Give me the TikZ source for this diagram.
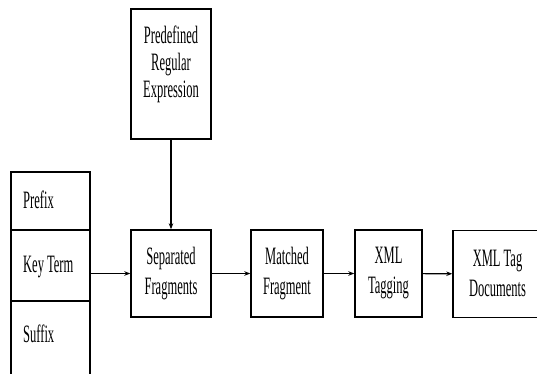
\documentclass[tikz,border=0pt]{standalone}
\usepackage{fontspec}
\setmainfont{Liberation Serif}[FakeStretch=0.5]
\usetikzlibrary{arrows.meta}
\begin{document}
\begin{tikzpicture}[x=1pt,y=-1pt,
  box/.style={draw,line width=1.4pt,inner sep=0pt,align=center,font=\fontsize{25}{30}\selectfont},
  lbl/.style={inner sep=0pt,font=\fontsize{25}{30}\selectfont},
  conn/.style={line width=1.2pt,-{Stealth[length=6pt,width=4.5pt]}}]
\clip (0,0) rectangle (537,374);
\fill[white] (0,0) rectangle (537,374);
% left stack
\node[box,minimum width=79pt,minimum height=58pt] (prefix) at (50.5,201) {};
\node[box,minimum width=79pt,minimum height=71pt] (key) at (50.5,265.5) {};
\node[box,minimum width=79pt,minimum height=99pt] (suffix) at (50.5,350.5) {};
\node[lbl,anchor=west] (tprefix) at (23,200) {Prefix};
\node[lbl,anchor=west] (tkey) at (23,267) {Key Term};
\node[lbl,anchor=west] (tsuffix) at (23,334) {Suffix};
% top box
\node[box,minimum width=80pt,minimum height=130pt] (pre) at (171,74) {};
\node[lbl,align=center,font=\fontsize{25}{27}\selectfont] (tpre) at (171,64) {Predefined\\Regular\\Expression};
% process boxes
\node[box,minimum width=80pt,minimum height=87pt] (sep) at (171,273.5) {Separated\\Fragments};
\node[box,minimum width=72pt,minimum height=87pt] (mat) at (287,273.5) {Matched\\Fragment};
\node[box,minimum width=67pt,minimum height=87pt] (xt) at (388.5,273.5) {XML\\Tagging};
\node[box,minimum width=120pt,minimum height=87pt] (doc) at (513,274) {};
\node[lbl,align=center] (tdoc) at (497.5,273) {XML Tag\\Documents};
% connectors
\draw[conn] (pre) -- (sep);
\draw[conn] (sep.west -| key.east) -- (sep.west);
\draw[conn] (sep) -- (mat);
\draw[conn] (mat) -- (xt);
\draw[conn] (xt) -- (doc);
\end{tikzpicture}
\end{document}
